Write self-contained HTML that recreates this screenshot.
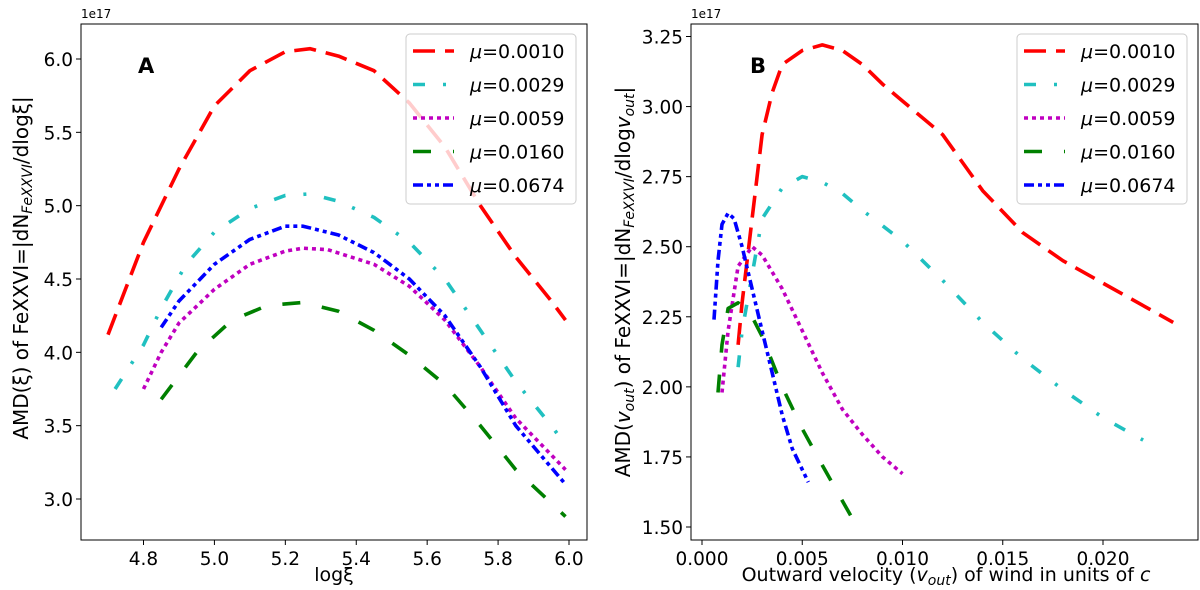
<!DOCTYPE html>
<html><head><meta charset="utf-8"><style>
body{margin:0;background:#fff;}
svg text{font-family:"DejaVu Sans","Liberation Sans",sans-serif;fill:#000;}
</style></head><body>
<svg id="chart" width="1200" height="585" xmlns="http://www.w3.org/2000/svg"></svg>
<script>
const muLabels = ["0.0010","0.0029","0.0059","0.0160","0.0674"];
const dashes = ["22 10","12 18 3 18","4 4","18 22","10 4 4 4 4 4"];
const colorsFix = ["red","#20c0c0","#c000c0","green","blue"];
// Panel A data
const aX = [
 [4.7,4.8,4.9,5.0,5.1,5.2,5.27,5.35,5.45,5.55,5.65,5.75,5.85,5.95,5.99],
 [4.72,4.8,4.85,4.92,5.0,5.1,5.2,5.27,5.35,5.45,5.55,5.65,5.75,5.85,5.95,5.99],
 [4.8,4.85,4.9,5.0,5.1,5.2,5.25,5.32,5.45,5.55,5.65,5.75,5.85,5.99],
 [4.85,4.95,5.05,5.15,5.25,5.35,5.45,5.55,5.65,5.75,5.85,5.99],
 [4.85,4.9,5.0,5.1,5.2,5.25,5.35,5.45,5.55,5.65,5.75,5.85,5.99]];
const aY = [
 [4.12,4.75,5.25,5.68,5.92,6.05,6.07,6.02,5.92,5.7,5.4,5.0,4.65,4.35,4.22],
 [3.75,4.05,4.3,4.6,4.82,4.98,5.07,5.08,5.03,4.92,4.75,4.5,4.15,3.8,3.5,3.37],
 [3.75,4.0,4.2,4.43,4.6,4.69,4.71,4.7,4.6,4.45,4.22,3.9,3.55,3.2],
 [3.68,4.0,4.22,4.32,4.34,4.28,4.15,3.98,3.78,3.5,3.2,2.88],
 [4.17,4.35,4.6,4.77,4.86,4.86,4.8,4.68,4.5,4.25,3.9,3.5,3.1]];
const aXTicks = [4.8,5.0,5.2,5.4,5.6,5.8,6.0];
const aYTicks = [3.0,3.5,4.0,4.5,5.0,5.5,6.0];
// Panel B data
const bX = [
 [0.0018,0.002,0.0025,0.003,0.0035,0.004,0.005,0.006,0.007,0.008,0.009,0.010,0.012,0.014,0.016,0.018,0.020,0.0235],
 [0.0018,0.002,0.0025,0.003,0.004,0.005,0.006,0.007,0.008,0.010,0.012,0.014,0.016,0.018,0.020,0.022],
 [0.001,0.0013,0.0018,0.0025,0.003,0.004,0.005,0.006,0.007,0.008,0.009,0.010],
 [0.0008,0.001,0.0013,0.0018,0.0025,0.003,0.004,0.005,0.006,0.0075],
 [0.0006,0.0008,0.001,0.0013,0.0016,0.002,0.0025,0.003,0.0035,0.004,0.0045,0.0053]];
const bY = [
 [2.15,2.3,2.6,2.9,3.05,3.15,3.2,3.22,3.2,3.15,3.08,3.02,2.9,2.7,2.55,2.45,2.37,2.23],
 [2.07,2.2,2.4,2.6,2.71,2.75,2.73,2.69,2.63,2.52,2.38,2.23,2.1,1.99,1.89,1.81],
 [1.98,2.2,2.43,2.5,2.47,2.35,2.2,2.05,1.92,1.83,1.75,1.69],
 [1.98,2.15,2.28,2.3,2.25,2.18,2.0,1.85,1.72,1.53],
 [2.24,2.45,2.58,2.62,2.6,2.5,2.35,2.2,2.05,1.9,1.78,1.66]];
const bXTicks = [0.000,0.005,0.010,0.015,0.020];
const bXTickLabels = ["0.000","0.005","0.010","0.015","0.020"];
const bYTicks = [1.50,1.75,2.00,2.25,2.50,2.75,3.00,3.25];

const svg = document.getElementById('chart');
const NS = "http://www.w3.org/2000/svg";
function mk(tag, attrs, parent){const e=document.createElementNS(NS,tag);for(const k in attrs)e.setAttribute(k,attrs[k]);(parent||svg).appendChild(e);return e;}

function panel(cfg){
  const g = mk('g',{});
  
  
  const sx = v => cfg.px0 + (v-cfg.x0)/(cfg.x1-cfg.x0)*(cfg.px1-cfg.px0);
  const sy = v => cfg.py0 + (v-cfg.y0)/(cfg.y1-cfg.y0)*(cfg.py1-cfg.py0);
  const clipId = cfg.name+'-clip';
  const cp = mk('clipPath',{id:clipId},g);
  mk('rect',{x:cfg.L,y:cfg.T,width:cfg.R-cfg.L,height:cfg.B-cfg.T},cp);
  for(let s=0;s<cfg.xs.length;s++){
    const pts = cfg.xs[s].map((x,i)=>sx(x).toFixed(1)+','+sy(cfg.ys[s][i]).toFixed(1)).join(' ');
    const pl = mk('polyline',{points:pts,fill:'none',stroke:colorsFix[s],'stroke-width':3.6,'stroke-linejoin':'round','stroke-dasharray':dashes[s],'clip-path':'url(#'+clipId+')'},g);
    
    
  }
  const fr = mk('rect',{x:cfg.L,y:cfg.T,width:cfg.R-cfg.L,height:cfg.B-cfg.T,fill:'none',stroke:'#000','stroke-width':1},g);
  
  
  cfg.xt.forEach((v,i)=>{
    const x=sx(v);
    mk('line',{x1:x,x2:x,y1:cfg.B,y2:cfg.B+5,stroke:'#000'},g);
    const t=mk('text',{x:x,y:cfg.B+25,'text-anchor':'middle','font-size':18.5},g);
    t.textContent = cfg.xtl ? cfg.xtl[i] : v.toFixed(1);
    
    
  });
  cfg.yt.forEach(v=>{
    const y=sy(v);
    mk('line',{x1:cfg.L-5,x2:cfg.L,y1:y,y2:y,stroke:'#000'},g);
    const t=mk('text',{x:cfg.L-8,y:y+7,'text-anchor':'end','font-size':18.5},g);
    t.textContent = v.toFixed(cfg.ydec);
    
    
  });
  const off=mk('text',{x:cfg.L,y:cfg.T-6,'font-size':12},g);
  off.textContent='1e17';
  
  
  const pl=mk('text',{x:cfg.lx,y:73,'font-size':21,'font-weight':'bold'},g);
  pl.textContent=cfg.letter;
  
  
  const lg=mk('g',{},g);
  
  
  mk('rect',{x:cfg.legX,y:34,width:170,height:170,rx:4,fill:'#fff','fill-opacity':0.8,stroke:'#ccc'},lg);
  muLabels.forEach((m,i)=>{
    const y=51+i*33.5;
    const ln=mk('line',{x1:cfg.legX+7,x2:cfg.legX+48,y1:y,y2:y,stroke:colorsFix[i],'stroke-width':3.6,'stroke-dasharray':dashes[i]},lg);
    
    
    const t=mk('text',{x:cfg.legX+64,y:y+7,'font-size':19},lg);
    t.innerHTML='<tspan font-style="italic">μ</tspan>=' + m;
    
    
  });
  return g;
}
panel({name:'panel-a',L:81,R:587,T:24,B:540,x0:4.8,x1:6.0,px0:143.5,px1:569,y0:3.0,y1:6.0,py0:499,py1:59,
  xs:aX,ys:aY,xt:aXTicks,yt:aYTicks,ydec:1,letter:'A',lx:138,legX:406});
panel({name:'panel-b',L:691,R:1198,T:24,B:540,x0:0,x1:0.020,px0:702,px1:1103,y0:1.5,y1:3.25,py0:527,py1:36.5,
  xs:bX,ys:bY,xt:bXTicks,xtl:bXTickLabels,yt:bYTicks,ydec:2,letter:'B',lx:750,legX:1017});
let t=mk('text',{x:334,y:581,'text-anchor':'middle','font-size':19});
t.textContent='logξ';


t=mk('text',{x:946,y:581,'text-anchor':'middle','font-size':19});
t.innerHTML='Outward velocity (<tspan font-style="italic">v</tspan><tspan font-style="italic" font-size="14" dy="4">out</tspan><tspan dy="-4">) of wind in units of </tspan><tspan font-style="italic">c</tspan>';


t=mk('text',{x:0,y:0,'text-anchor':'middle','font-size':20,transform:'translate(28,268) rotate(-90)'});
t.innerHTML='AMD(ξ) of FeXXVI=|dN<tspan font-style="italic" font-size="14" dy="4">FeXXVI</tspan><tspan dy="-4">/dlogξ|</tspan>';


t=mk('text',{x:0,y:0,'text-anchor':'middle','font-size':20,transform:'translate(630,282) rotate(-90)'});
t.innerHTML='AMD(<tspan font-style="italic">v</tspan><tspan font-style="italic" font-size="14" dy="4">out</tspan><tspan dy="-4">) of FeXXVI=|dN</tspan><tspan font-style="italic" font-size="14" dy="4">FeXXVI</tspan><tspan dy="-4">/dlog</tspan><tspan font-style="italic">v</tspan><tspan font-style="italic" font-size="14" dy="4">out</tspan><tspan dy="-4">|</tspan>';


</script>
</body></html>
